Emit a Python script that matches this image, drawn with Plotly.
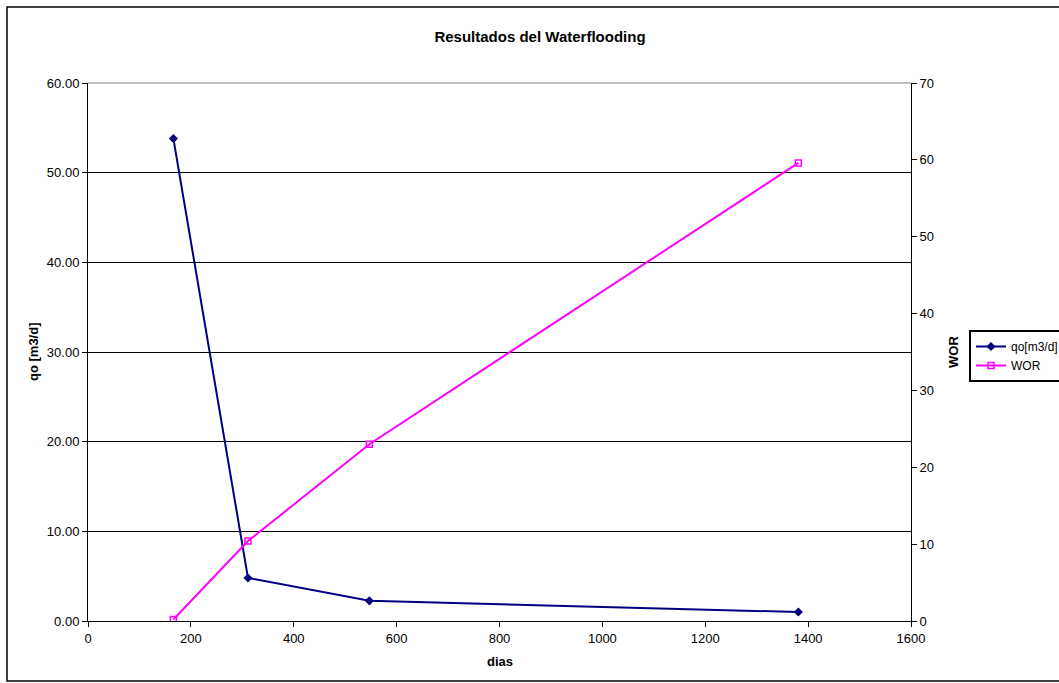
import plotly.graph_objects as go

# Waterflooding results: oil rate and water-oil ratio versus time
dias = [166, 311, 547, 1381]
qo = [53.8, 4.8, 2.25, 1.0]
wor = [0.2, 10.4, 23.0, 59.6]

W, H = 1059, 683
L, R, T, B = 88, 911, 83, 621
FONT = "Arial, Liberation Sans, sans-serif"

def px_x(p):
    return (p - L) / (R - L)

def px_y(p):
    return (B - p) / (B - T)

fig = go.Figure()
fig.add_trace(go.Scatter(
    x=dias, y=qo, name="qo[m3/d]", mode="lines+markers",
    line=dict(color="#000080", width=2),
    marker=dict(symbol="diamond", size=7, color="#000080"),
    yaxis="y",
))
fig.add_trace(go.Scatter(
    x=dias, y=wor, name="WOR", mode="lines+markers",
    line=dict(color="#FF00FF", width=2),
    marker=dict(symbol="square-open", size=6, color="#FF00FF", line=dict(width=1.5)),
    yaxis="y2",
))

axis_common = dict(
    showline=True, linecolor="black", linewidth=1,
    ticks="outside", ticklen=5, tickcolor="black", tickwidth=1,
    tickfont=dict(family=FONT, size=13, color="black"),
    zeroline=False,
)

fig.update_layout(
    width=W, height=H,
    margin=dict(l=L, r=W - R, t=T, b=H - B, autoexpand=False),
    paper_bgcolor="white", plot_bgcolor="white",
    showlegend=True,
    title=dict(text="<b>Resultados del Waterflooding</b>", x=540 / W, xanchor="center",
               y=1 - 37 / H, yanchor="middle",
               font=dict(family=FONT, size=15, color="black")),
    xaxis=dict(range=[0, 1600], dtick=200, showgrid=False, **axis_common),
    yaxis=dict(range=[0, 60], dtick=10, tickformat=".2f", showgrid=True,
               gridcolor="black", gridwidth=1, **axis_common),
    yaxis2=dict(range=[0, 70], dtick=10, overlaying="y", side="right",
                showgrid=False, **axis_common),
    legend=dict(x=px_x(969), y=px_y(330), xanchor="left", yanchor="top",
                bgcolor="white", bordercolor="black", borderwidth=2,
                font=dict(family=FONT, size=12, color="black"),
                tracegroupgap=0, itemwidth=30),
)

shapes = [
    # plot area top edge
    dict(type="line", xref="paper", yref="paper", x0=0, x1=1, y0=1, y1=1,
         line=dict(color="#808080", width=1)),
    # chart frame
    dict(type="rect", xref="paper", yref="paper",
         x0=px_x(7), x1=px_x(1064), y0=px_y(681), y1=px_y(7),
         line=dict(color="black", width=1.5), layer="below"),
]
fig.update_layout(shapes=shapes)

fig.add_annotation(text="<b>dias</b>", xref="paper", yref="paper",
                   x=0.5, y=px_y(661), showarrow=False, yanchor="middle",
                   font=dict(family=FONT, size=13, color="black"))
fig.add_annotation(text="<b>qo [m3/d]</b>", xref="paper", yref="paper",
                   x=px_x(33), y=0.5, showarrow=False, textangle=-90,
                   xanchor="center", yanchor="middle",
                   font=dict(family=FONT, size=13, color="black"))
fig.add_annotation(text="<b>WOR</b>", xref="paper", yref="paper",
                   x=px_x(953), y=0.5, showarrow=False, textangle=-90,
                   xanchor="center", yanchor="middle",
                   font=dict(family=FONT, size=13, color="black"))

fig.write_html("out.html")
